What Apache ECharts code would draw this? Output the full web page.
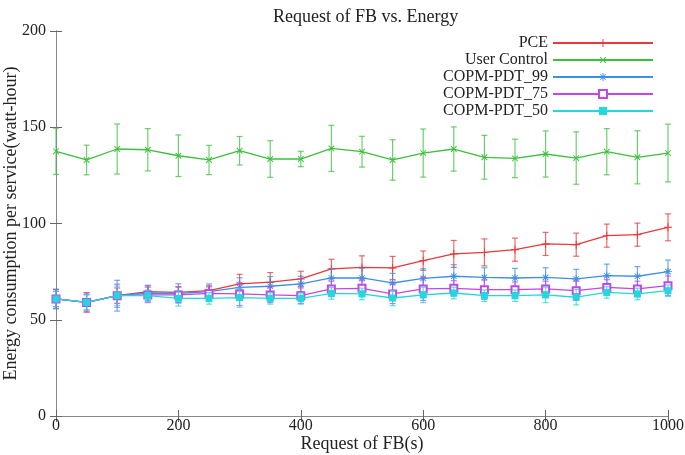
<!DOCTYPE html>
<html>
<head>
<meta charset="utf-8">
<script src="https://cdn.jsdelivr.net/npm/echarts@6/dist/echarts.min.js"></script>
<style>
  html, body { margin: 0; padding: 0; background: #fff; }
  #main { width: 685px; height: 455px; }
</style>
</head>
<body>
<div id="main"></div>
<script>
// 横轴: 请求数
var xs = [0, 50, 100, 150, 200, 250, 300, 350, 400, 450, 500, 550, 600, 650, 700, 750, 800, 850, 900, 950, 1000];
var xTicks = [0, 200, 400, 600, 800, 1000];
var yTicks = [0, 50, 100, 150, 200];

var pce = [60.8, 59, 62.5, 64.6, 64.2, 65.1, 68.6, 69.5, 71.2, 76.4, 77.2, 76.9, 80.7, 84.2, 85, 86.4, 89.4, 89, 93.7, 94.2, 98];
var pceErr = [5, 5, 4, 3, 3, 2, 5, 5, 4, 5, 6, 6, 5, 7, 7, 6, 6, 6, 6, 6, 7];
var user = [137.5, 133, 138.7, 138.3, 135.2, 133, 137.8, 133.5, 133.5, 139, 137.3, 133, 136.6, 138.7, 134.4, 133.8, 136.1, 134, 137.3, 134.4, 136.6];
var userErr = [12, 7.7, 13, 11, 10.8, 7.6, 7.4, 9.5, 4, 12, 8, 10.5, 12.5, 11.5, 11.4, 10, 12, 13.6, 12, 13.8, 15];
var p99 = [60.8, 59, 62.5, 63.9, 63.7, 64.6, 66.8, 67.4, 68.6, 71.7, 71.7, 69.1, 71.5, 72.6, 72, 71.7, 72, 71.2, 72.9, 72.6, 75];
var p99Err = [5, 4, 8, 4, 5, 4, 5, 5, 4, 5, 5, 5, 5, 6, 5, 5, 5, 5, 6, 5, 6];
var p75 = [60.8, 59, 62.5, 62.9, 62.9, 63.7, 63.4, 62.9, 62.5, 66, 66.3, 63.4, 66, 66.3, 65.6, 65.6, 66, 65.1, 66.8, 66, 67.7];
var p75Err = [4, 5, 6, 4, 4, 4, 6, 4, 4, 4, 4, 5, 6, 4, 5, 4, 4, 5, 4, 4, 5];
var p50 = [60.8, 59, 62.5, 62.5, 61.1, 61.1, 61.5, 61.1, 61.1, 63.7, 63.4, 61.3, 62.9, 63.9, 62.5, 62.5, 62.9, 61.7, 64.2, 63.4, 65.1];
var p50Err = [4, 4, 5, 3, 4, 3, 5, 3, 3, 3, 3, 4, 4, 3, 3, 3, 4, 4, 3, 3, 3];

var names = ['PCE', 'User Control', 'COPM-PDT_99', 'COPM-PDT_75', 'COPM-PDT_50'];
var colors = ['#e8393a', '#3cc03c', '#3d8fe8', '#c445e8', '#22d8dc'];
var values = [pce, user, p99, p75, p50];
var errs = [pceErr, userErr, p99Err, p75Err, p50Err];

var plusPath = 'path://M0,4.4L10,4.4L10,5.6L0,5.6Z M4.4,0L5.6,0L5.6,10L4.4,10Z';
var starPath = 'path://M0,4.4L10,4.4L10,5.6L0,5.6Z M4.4,0L5.6,0L5.6,10L4.4,10Z M1.2,2L2,1.2L8.8,8L8,8.8Z M8,1.2L8.8,2L2,8.8L1.2,8Z';
var symbols = [plusPath, plusPath, starPath, 'emptyRect', 'rect'];
var rotates = [0, 45, 0, 0, 0];
var sizes = [8, 8, 8, 7, 7];

var font = '"Liberation Serif", "DejaVu Serif", serif';

// 误差棒
function errRender(color) {
    return function (params, api) {
        var x = api.value(0);
        var lo = api.coord([x, api.value(1)]);
        var hi = api.coord([x, api.value(2)]);
        var w = 3;
        var st = { stroke: color, lineWidth: 1.2, opacity: 0.75 };
        return {
            type: 'group',
            children: [
                { type: 'line', shape: { x1: lo[0], y1: lo[1], x2: hi[0], y2: hi[1] }, style: st },
                { type: 'line', shape: { x1: lo[0] - w, y1: lo[1], x2: lo[0] + w, y2: lo[1] }, style: st },
                { type: 'line', shape: { x1: hi[0] - w, y1: hi[1], x2: hi[0] + w, y2: hi[1] }, style: st }
            ]
        };
    };
}

var series = [];
for (var k = 0; k < names.length; k++) {
    var lineData = [], errData = [];
    for (var i = 0; i < xs.length; i++) {
        lineData.push([xs[i], values[k][i]]);
        errData.push([xs[i], values[k][i] - errs[k][i], values[k][i] + errs[k][i]]);
    }
    series.push({
        name: names[k] + ' err',
        type: 'custom',
        renderItem: errRender(colors[k]),
        data: errData,
        z: 2 + k * 2,
        silent: true
    });
    series.push({
        name: names[k],
        type: 'line',
        data: lineData,
        symbol: symbols[k],
        symbolSize: sizes[k],
        symbolRotate: rotates[k],
        lineStyle: { color: colors[k], width: 1.3 },
        itemStyle: { color: colors[k], borderColor: colors[k], borderWidth: k === 3 ? 1.3 : 0 },
        z: 3 + k * 2
    });
}

var axisLineStyle = { lineStyle: { color: '#888', width: 1 } };

var chart = echarts.init(document.getElementById('main'));
var option = {
    animation: false,
    title: {
        text: 'Request of FB vs. Energy',
        left: 268,
        top: 3,
        textStyle: { fontFamily: font, fontWeight: 'normal', fontSize: 18, color: '#222' }
    },
    legend: {
        data: names,
        orient: 'vertical',
        align: 'right',
        right: 31,
        top: 35,
        padding: 0,
        itemWidth: 100,
        itemHeight: 10,
        itemGap: 1,
        textStyle: { fontFamily: font, fontSize: 16, lineHeight: 16, color: '#222' }
    },
    grid: { left: 56, right: 17, top: 31, bottom: 39, outerBoundsMode: 'none', containLabel: false },
    xAxis: [{
        type: 'value',
        min: xTicks[0],
        max: xTicks[xTicks.length - 1],
        interval: 200,
        name: 'Request of FB(s)',
        nameLocation: 'middle',
        nameGap: 19,
        nameMoveOverlap: false,
        nameTextStyle: { fontFamily: font, fontSize: 18, color: '#222' },
        axisLine: axisLineStyle,
        axisTick: { inside: true, length: 6, lineStyle: { color: '#666' } },
        axisLabel: { fontFamily: font, fontSize: 16, color: '#222', margin: 2, formatter: function (v) { return String(v); } },
        splitLine: { show: false }
    }, {
        type: 'value',
        position: 'top',
        min: xTicks[0],
        max: xTicks[xTicks.length - 1],
        interval: 200,
        axisLine: axisLineStyle,
        axisTick: { inside: true, length: 6, lineStyle: { color: '#666' } },
        axisLabel: { show: false },
        splitLine: { show: false }
    }],
    yAxis: [{
        type: 'value',
        min: yTicks[0],
        max: yTicks[yTicks.length - 1],
        interval: 50,
        name: 'Energy consumption per service(watt-hour)',
        nameLocation: 'middle',
        nameGap: 36,
        nameMoveOverlap: false,
        nameTextStyle: { fontFamily: font, fontSize: 18, color: '#222' },
        axisLine: { show: true, lineStyle: { color: '#888', width: 1 } },
        axisTick: { inside: true, length: 6, lineStyle: { color: '#666' } },
        axisLabel: { fontFamily: font, fontSize: 16, color: '#222', margin: 10 },
        splitLine: { show: false }
    }, {
        type: 'value',
        position: 'right',
        min: yTicks[0],
        max: yTicks[yTicks.length - 1],
        interval: 50,
        axisLine: { show: true, lineStyle: { color: '#888', width: 1 } },
        axisTick: { inside: true, length: 6, lineStyle: { color: '#666' } },
        axisLabel: { show: false },
        splitLine: { show: false }
    }],
    series: series
};
chart.setOption(option);
</script>
</body>
</html>
